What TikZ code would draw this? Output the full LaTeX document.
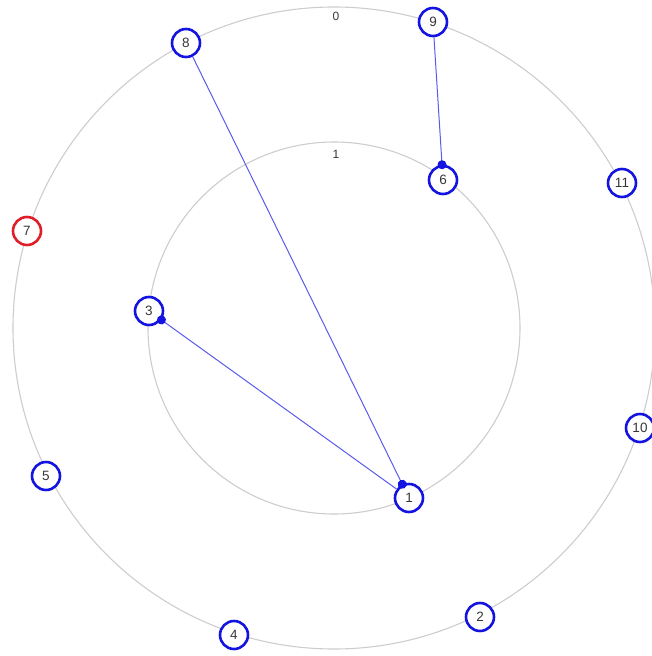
\documentclass[tikz,border=0pt]{standalone}
\usepackage{fontspec}
\setmainfont{Liberation Sans}
\usetikzlibrary{arrows.meta}
\definecolor{ringgray}{RGB}{205,205,205}
\definecolor{nodeblue}{RGB}{20,20,225}
\definecolor{edgeblue}{RGB}{90,90,235}
\definecolor{nodered}{RGB}{225,30,40}
\definecolor{txt}{RGB}{55,55,55}
\tikzset{
  vtx/.style={circle, draw=nodeblue, line width=2.6pt, fill=white, minimum size=28pt, inner sep=0pt, text=txt, font=\fontsize{13.5}{13.5}\selectfont},
  vtxred/.style={vtx, draw=nodered},
  ring/.style={draw=ringgray, line width=1.1pt},
  ringlabel/.style={text=txt, font=\fontsize{12}{12}\selectfont},
  link/.style={draw=edgeblue, line width=1pt, -{Circle[length=9pt,fill=nodeblue,color=nodeblue]}, shorten >=-4.5pt}
}
\begin{document}
\begin{tikzpicture}[x=1pt,y=-1pt]
\useasboundingbox (0,0) rectangle (651,656);
\coordinate (c) at (334,328);
\draw[ring] (c) circle[radius=321];
\draw[ring] (c) circle[radius=186];
\node[ringlabel] (l0) at (336,16) {0};
\node[ringlabel] (l1) at (336,154) {1};
\node[vtx] (n8) at (186,43) {8};
\node[vtx] (n9) at (433,22) {9};
\node[vtx] (n6) at (443,180) {6};
\node[vtx] (n11) at (622,183) {11};
\node[vtxred] (n7) at (27,231) {7};
\node[vtx] (n3) at (149,311) {3};
\node[vtx] (n10) at (640,428) {10};
\node[vtx] (n5) at (46,476) {5};
\node[vtx] (n1) at (409,498) {1};
\node[vtx] (n2) at (480,617) {2};
\node[vtx] (n4) at (234,635) {4};
\draw[link] (n8) -- (n1);
\draw[link] (n1) -- (n3);
\draw[link] (n9) -- (n6);
\end{tikzpicture}
\end{document}
